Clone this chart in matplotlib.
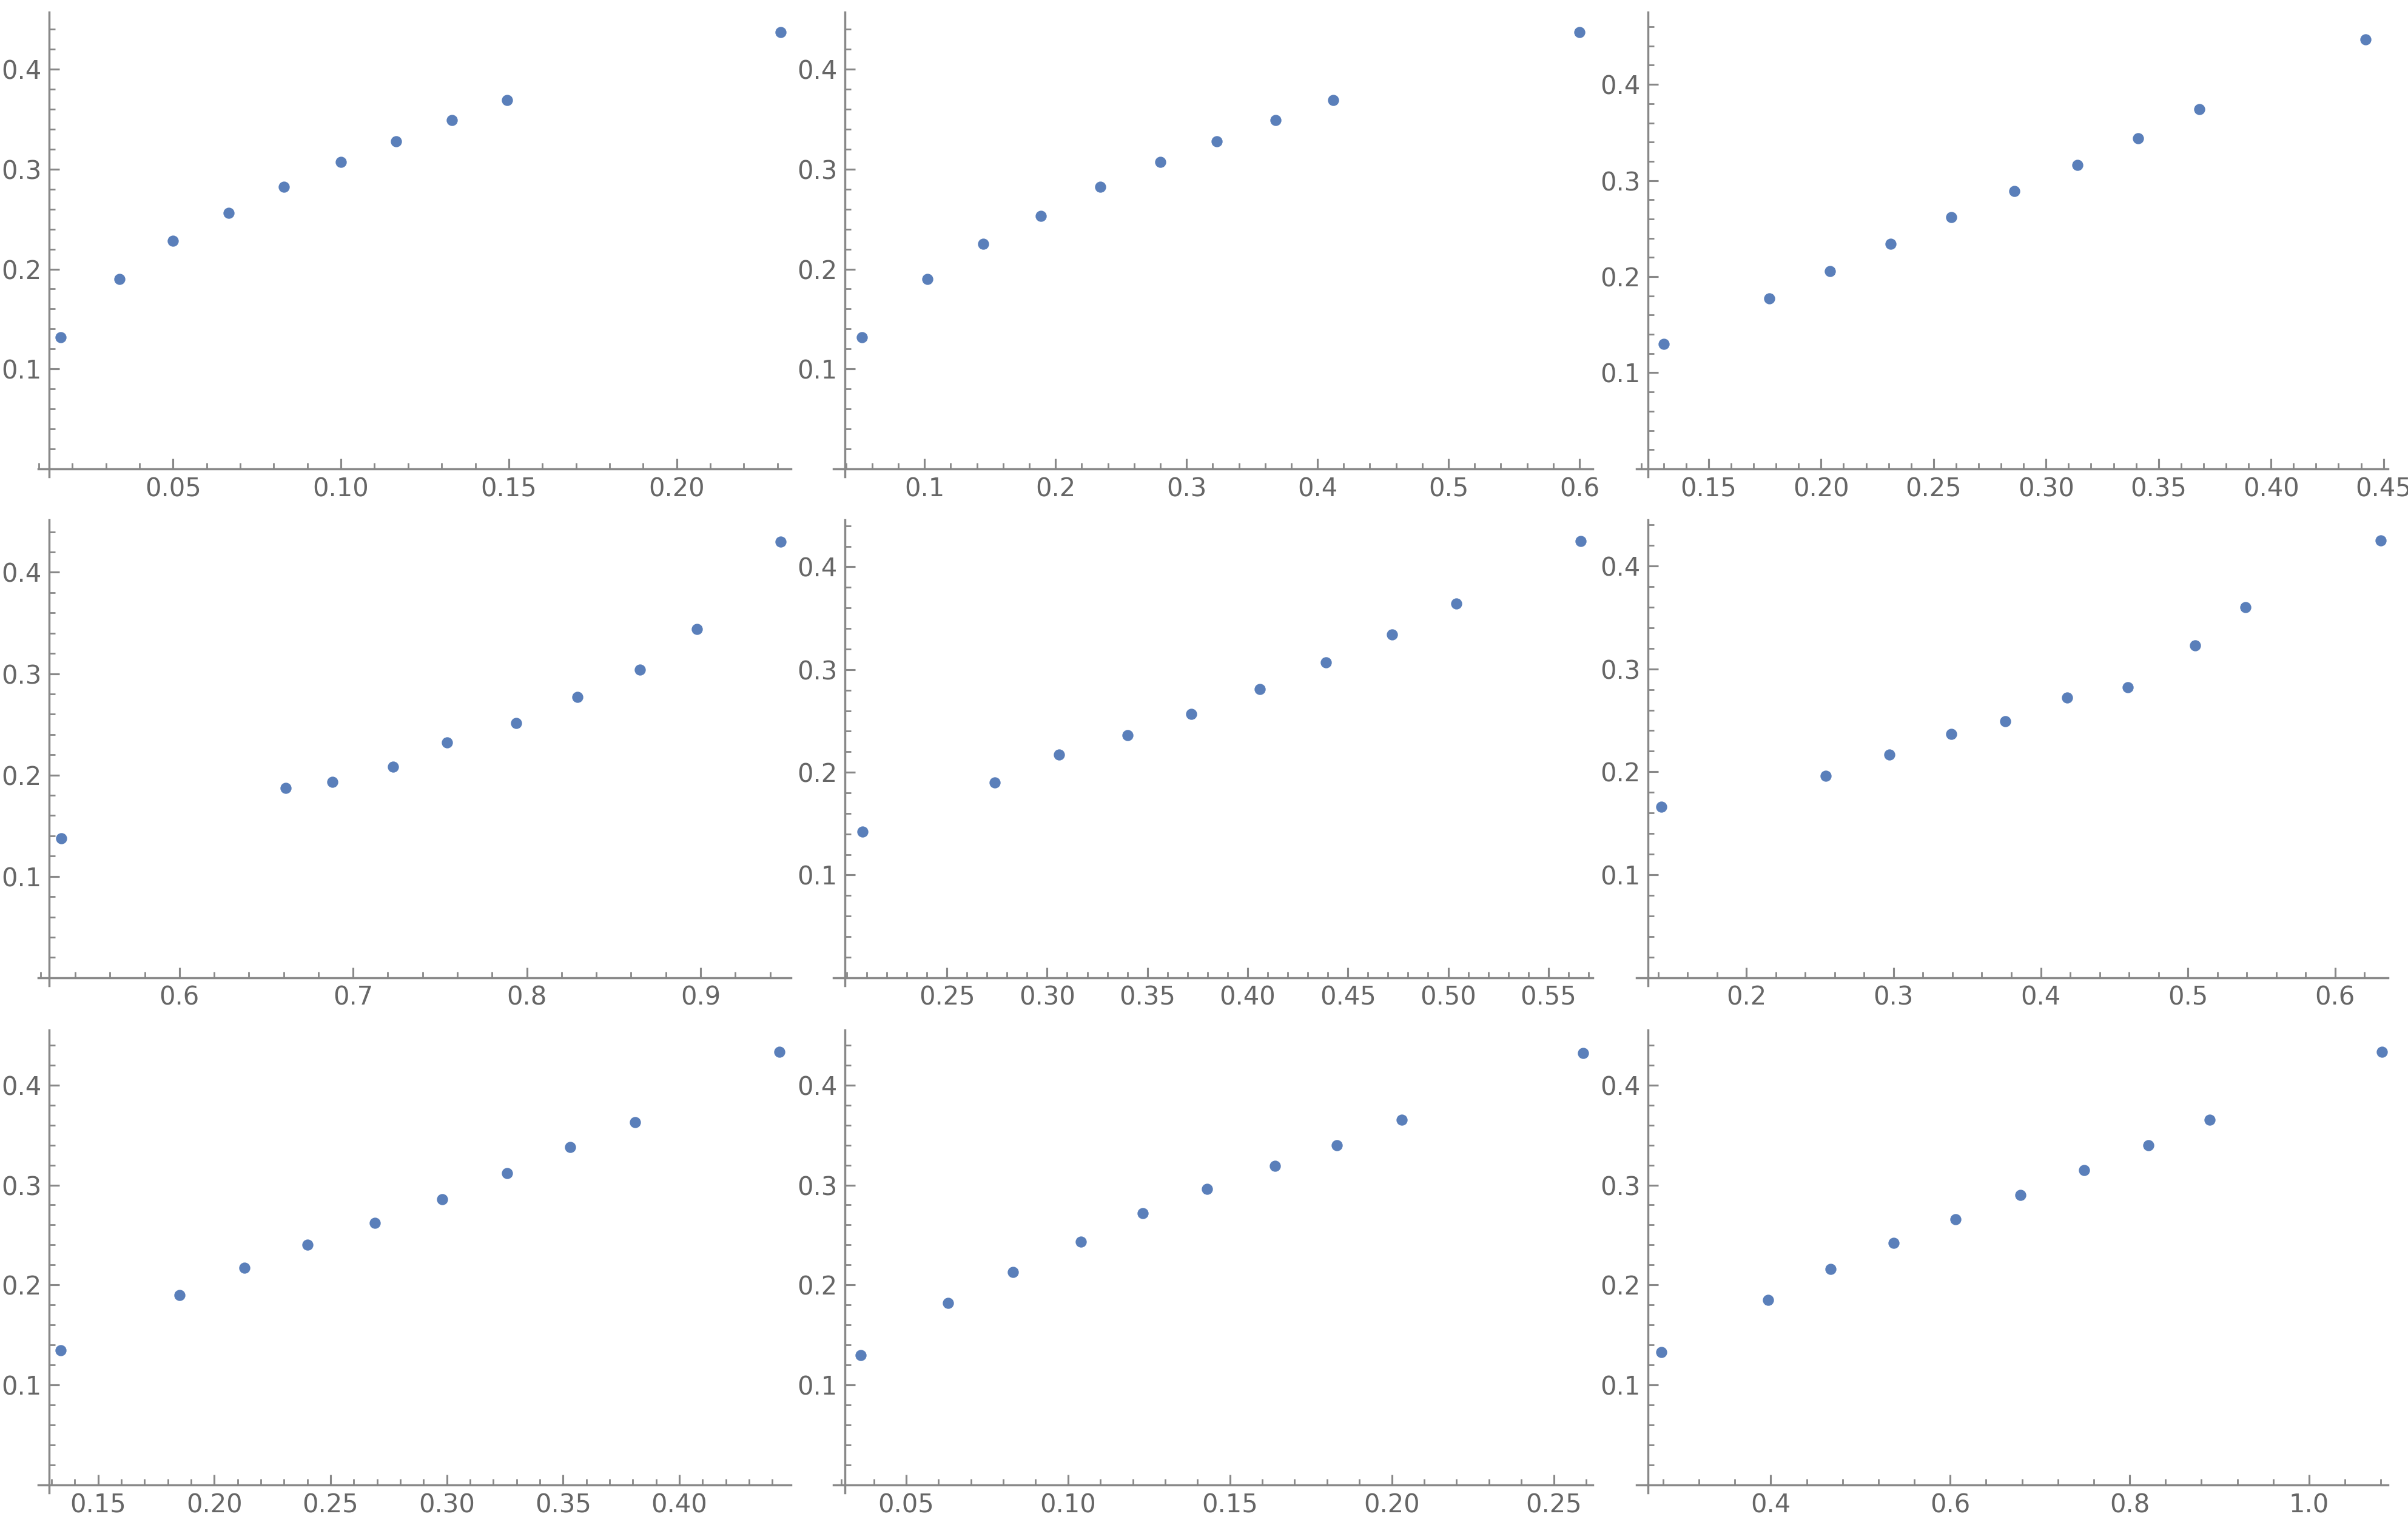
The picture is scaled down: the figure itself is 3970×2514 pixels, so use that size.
import matplotlib
matplotlib.use("Agg")
import matplotlib.pyplot as plt
from matplotlib.ticker import MultipleLocator
import numpy as np

x1 = [0.0165, 0.034, 0.050, 0.0665, 0.083, 0.100, 0.1165, 0.133, 0.1495, 0.231]
y1 = [0.132, 0.190, 0.228, 0.256, 0.282, 0.307, 0.328, 0.349, 0.369, 0.437]
x2 = [0.052, 0.102, 0.145, 0.189, 0.234, 0.280, 0.323, 0.368, 0.412, 0.600]
y2 = [0.132, 0.190, 0.225, 0.253, 0.282, 0.307, 0.328, 0.349, 0.369, 0.437]
x3 = [0.130, 0.177, 0.204, 0.231, 0.258, 0.286, 0.314, 0.341, 0.368, 0.442]
y3 = [0.130, 0.177, 0.206, 0.234, 0.262, 0.289, 0.316, 0.344, 0.374, 0.447]
x4 = [0.532, 0.661, 0.688, 0.723, 0.754, 0.794, 0.829, 0.865, 0.898, 0.946]
y4 = [0.1375, 0.187, 0.193, 0.208, 0.232, 0.251, 0.277, 0.304, 0.344, 0.430]
x5 = [0.208, 0.274, 0.306, 0.340, 0.372, 0.406, 0.439, 0.472, 0.504, 0.566]
y5 = [0.142, 0.190, 0.217, 0.236, 0.257, 0.281, 0.307, 0.334, 0.364, 0.425]
x6 = [0.142, 0.254, 0.297, 0.339, 0.376, 0.418, 0.459, 0.505, 0.539, 0.631]
y6 = [0.166, 0.196, 0.217, 0.237, 0.249, 0.272, 0.282, 0.323, 0.360, 0.425]
x7 = [0.134, 0.185, 0.213, 0.240, 0.269, 0.298, 0.326, 0.353, 0.381, 0.443]
y7 = [0.135, 0.190, 0.217, 0.240, 0.262, 0.286, 0.312, 0.338, 0.363, 0.433]
x8 = [0.036, 0.063, 0.083, 0.104, 0.123, 0.143, 0.164, 0.183, 0.203, 0.259]
y8 = [0.130, 0.182, 0.213, 0.243, 0.272, 0.296, 0.319, 0.340, 0.365, 0.432]
x9 = [0.278, 0.397, 0.467, 0.537, 0.606, 0.678, 0.749, 0.821, 0.889, 1.081]
y9 = [0.133, 0.185, 0.216, 0.242, 0.266, 0.290, 0.315, 0.340, 0.365, 0.433]

xs = [x1, x2, x3, x4, x5, x6, x7, x8, x9]
ys = [y1, y2, y3, y4, y5, y6, y7, y8, y9]
xcfg = [(0.0131, 0.234, 0.05, 0.01), (0.039, 0.610, 0.1, 0.02), (0.123, 0.452, 0.05, 0.01),
        (0.525, 0.952, 0.1, 0.02), (0.199, 0.572, 0.05, 0.01), (0.133, 0.636, 0.1, 0.02),
        (0.129, 0.448, 0.05, 0.01), (0.031, 0.262, 0.05, 0.01), (0.263, 1.088, 0.2, 0.04)]
ytop = [0.457, 0.457, 0.475, 0.452, 0.446, 0.445, 0.455, 0.455, 0.455]

W, H = 1568, 992
colx = [(32, 515), (550, 1037), (1073, 1555)]
rowy = [(8, 305), (338, 636), (670, 966)]

gray = "#666666"
fig = plt.figure(figsize=(15.88, 10.056), dpi=250)
for i in range(9):
    r, c = divmod(i, 3)
    x0p, x1p = colx[c]
    ytp, ybp = rowy[r]
    ax0, xr, mj, mn = xcfg[i]
    padx = (xr - ax0) * 0.015
    pady = 0.008
    xl = ax0 - padx
    yl = -pady
    pw = (x1p - x0p) / (xr - ax0)
    left = (x0p - padx * pw) / W
    width = (x1p - x0p + padx * pw) / W
    ph = (ybp - ytp) / ytop[i]
    bottom = 1 - (ybp + pady * ph) / H
    height = (ybp - ytp + pady * ph) / H
    ax = fig.add_axes([left, bottom, width, height])
    ax.scatter(xs[i], ys[i], s=28, color="#5a7fba", zorder=3, linewidths=0)
    ax.set_xlim(xl, xr)
    ax.set_ylim(yl, ytop[i])
    for s in ["top", "right"]:
        ax.spines[s].set_visible(False)
    ax.spines["left"].set_position(("data", ax0))
    ax.spines["bottom"].set_position(("data", 0))
    for s in ["left", "bottom"]:
        ax.spines[s].set_color("#888888")
        ax.spines[s].set_linewidth(1.0)
    ax.xaxis.set_minor_locator(MultipleLocator(mn))
    ax.yaxis.set_minor_locator(MultipleLocator(0.02))
    ax.tick_params(which="major", direction="in", length=5, color="#888888",
                   labelsize=12, labelcolor=gray, width=0.9)
    ax.tick_params(which="minor", direction="in", length=3, color="#888888", width=0.8)
    yt = [0.1, 0.2, 0.3, 0.4]
    ax.set_yticks(yt)
    ax.set_yticklabels([f"{t:.1f}" for t in yt])
    first = np.ceil((ax0 + 0.2 * mj) / mj) * mj
    xt = np.arange(first, xr + 1e-9, mj)
    ax.set_xticks(xt)
    dec = 2 if mj == 0.05 else 1
    ax.set_xticklabels([f"{t:.{dec}f}" for t in xt])
    ax.patch.set_alpha(0)

fig.savefig("out.png", dpi=250)
